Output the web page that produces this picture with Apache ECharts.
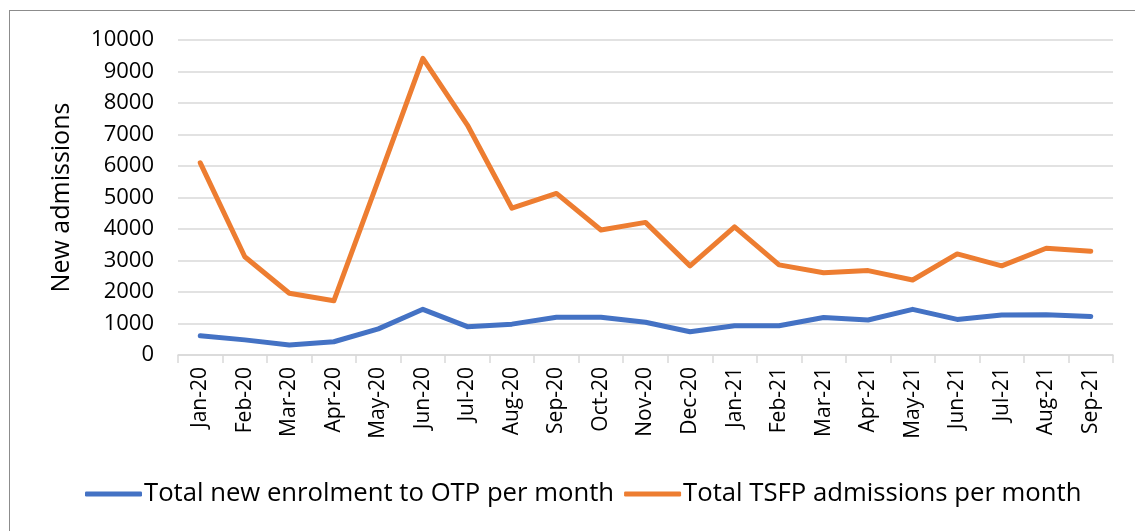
<!DOCTYPE html>
<html>
<head>
<meta charset="utf-8">
<script src="https://cdn.jsdelivr.net/npm/echarts@6/dist/echarts.min.js"></script>
<style>
  html, body { margin: 0; padding: 0; background: #fff; }
  #chart { width: 1135px; height: 531px; position: relative; }
  #frame {
    position: absolute; left: 9px; top: 10px; right: -5px; bottom: -5px;
    border-top: 1.5px solid #8c8c8c; border-left: 1.5px solid #8c8c8c;
    pointer-events: none;
  }
</style>
</head>
<body>
<div id="chart"></div>
<div id="frame"></div>
<script>
const months = ['Jan-20', 'Feb-20', 'Mar-20', 'Apr-20', 'May-20', 'Jun-20', 'Jul-20',
  'Aug-20', 'Sep-20', 'Oct-20', 'Nov-20', 'Dec-20', 'Jan-21', 'Feb-21', 'Mar-21',
  'Apr-21', 'May-21', 'Jun-21', 'Jul-21', 'Aug-21', 'Sep-21'];

// Total new enrolment to OTP per month
const otpValues = [610, 480, 320, 420, 830, 1450, 900, 980, 1200, 1200, 1040,
  740, 930, 930, 1190, 1110, 1450, 1130, 1270, 1280, 1220];

// Total TSFP admissions per month
const tsfpValues = [6100, 3120, 1960, 1720, 5550, 9420, 7300, 4660, 5130, 3970, 4210,
  2830, 4070, 2860, 2610, 2680, 2380, 3210, 2830, 3390, 3290];

const yTicks = [0, 1000, 2000, 3000, 4000, 5000, 6000, 7000, 8000, 9000, 10000];

const font = 'Open Sans';
const chart = echarts.init(document.getElementById('chart'));

chart.setOption({
  animation: false,
  textStyle: { fontFamily: font, color: '#000' },
  grid: { left: 178, right: 22, top: 40, bottom: 176 },
  legend: {
    bottom: 19,
    left: 80,
    itemWidth: 57,
    itemHeight: 5,
    itemGap: 10,
    icon: 'roundRect',
    textStyle: { fontFamily: font, fontSize: 25.7, color: '#000', padding: [0, 0, 0, -3] },
    data: ['Total new enrolment to OTP per month', 'Total TSFP admissions per month']
  },
  xAxis: {
    type: 'category',
    data: months,
    boundaryGap: true,
    axisLine: { lineStyle: { color: '#d9d9d9', width: 1.5 } },
    axisTick: { show: true, length: 8, lineStyle: { color: '#d9d9d9', width: 1.5 } },
    axisLabel: { rotate: 90, margin: 12, fontSize: 21, color: '#000', fontFamily: font, interval: 0 }
  },
  yAxis: {
    type: 'value',
    min: yTicks[0],
    max: yTicks[yTicks.length - 1],
    interval: 1000,
    name: 'New admissions',
    nameLocation: 'middle',
    nameRotate: 90,
    nameGap: 104,
    nameTextStyle: { fontSize: 25, color: '#000', fontFamily: font },
    axisLine: { show: false },
    axisTick: { show: false },
    axisLabel: { margin: 24, fontSize: 22, color: '#000', fontFamily: font, formatter: v => String(v) },
    splitLine: { lineStyle: { color: '#d9d9d9', width: 1.5 } }
  },
  series: [
    {
      name: 'Total new enrolment to OTP per month',
      type: 'line',
      data: otpValues,
      symbol: 'none',
      lineStyle: { color: '#4472C4', width: 5, cap: 'round', join: 'round' },
      itemStyle: { color: '#4472C4' }
    },
    {
      name: 'Total TSFP admissions per month',
      type: 'line',
      data: tsfpValues,
      symbol: 'none',
      lineStyle: { color: '#ED7D31', width: 5, cap: 'round', join: 'round' },
      itemStyle: { color: '#ED7D31' }
    }
  ]
});
</script>
</body>
</html>
